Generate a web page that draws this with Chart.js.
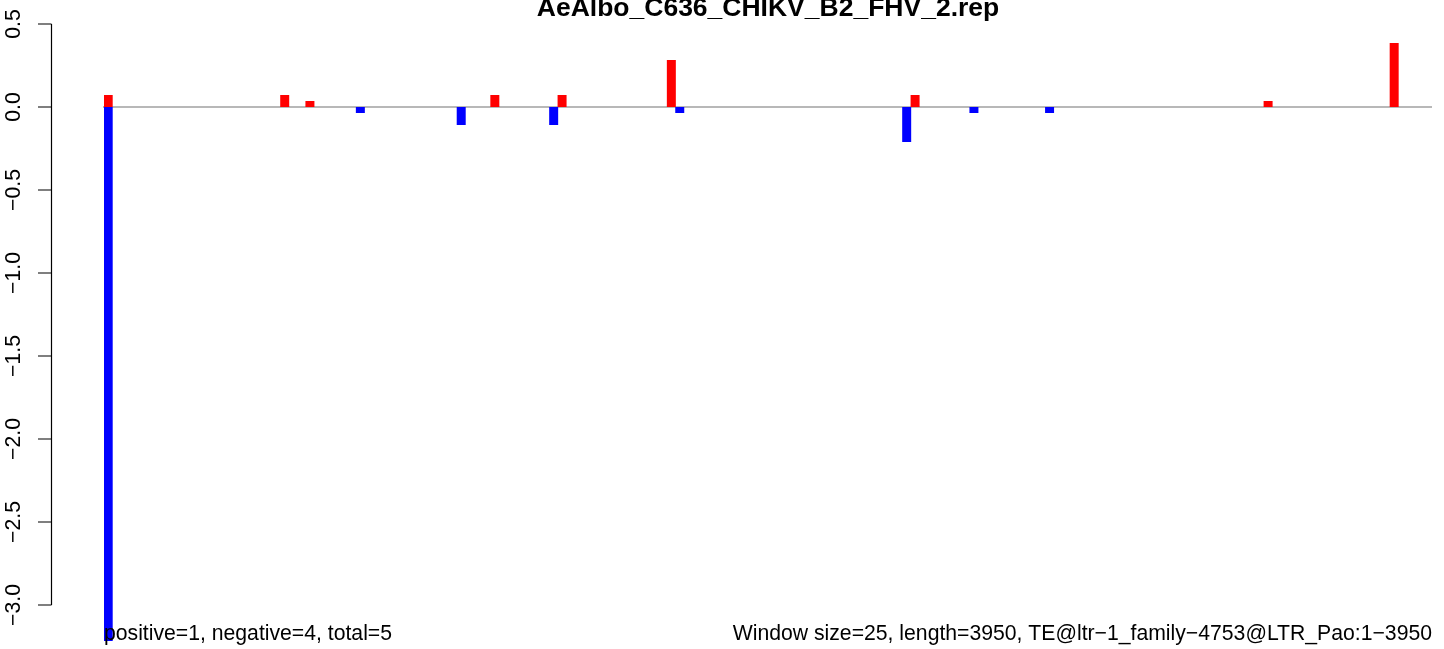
<!DOCTYPE html>
<html><head><meta charset="utf-8">
<script src="https://cdn.jsdelivr.net/npm/chart.js@4/dist/chart.umd.min.js"></script>
<style>html,body{margin:0;padding:0;background:#fff;} canvas{display:block;}</style>
</head><body>
<canvas id="c" width="1444" height="649"></canvas>
<script>
const chartTitle = "AeAlbo_C636_CHIKV_B2_FHV_2.rep";
const windowSize = 25;
const seqLength = 3950;
const posWindows = [0, 21, 24, 46, 54, 67, 96, 138, 153];
const posValues = [0.072, 0.072, 0.036, 0.072, 0.072, 0.283, 0.072, 0.036, 0.386];
const negWindows = [0, 30, 42, 53, 68, 95, 103, 112];
const negValues = [-3.217, -0.036, -0.108, -0.108, -0.036, -0.211, -0.036, -0.036];
const yTicks = [-3.0, -2.5, -2.0, -1.5, -1.0, -0.5, 0.0, 0.5];
const yMin = -3.25, yMax = 0.5;
const leftNote = "positive=1, negative=4, total=5";
const rightNote = "Window size=25, length=3950, TE@ltr\u22121_family\u22124753@LTR_Pao:1\u22123950";

const nWindows = Math.round(seqLength / windowSize);
const categories = Array.from({length: nWindows}, (_, i) => String(i));
const posData = new Array(nWindows).fill(null);
posWindows.forEach((w, i) => { posData[w] = posValues[i]; });
const negData = new Array(nWindows).fill(null);
negWindows.forEach((w, i) => { negData[w] = negValues[i]; });

const FONT = "'Liberation Sans', Arial, Helvetica, sans-serif";
const fmt = v => (v < 0 ? "\u2212" : "") + Math.abs(v).toFixed(1);

const decor = {
  id: 'decor',
  beforeDatasetsDraw(chart) {
    const {ctx, chartArea} = chart;
    const y = chart.scales.y.getPixelForValue(0);
    ctx.save();
    ctx.strokeStyle = '#a0a0a0';
    ctx.lineWidth = 1.5;
    ctx.beginPath();
    ctx.moveTo(chartArea.left - 1, y);
    ctx.lineTo(chartArea.right, y);
    ctx.stroke();
    ctx.restore();
  },
  afterDraw(chart) {
    const {ctx, chartArea} = chart;
    const ys = chart.scales.y;
    ctx.save();
    const axX = 51.5;
    ctx.strokeStyle = '#000';
    ctx.lineWidth = 1.2;
    ctx.beginPath();
    ctx.moveTo(axX, ys.getPixelForValue(yTicks[0]));
    ctx.lineTo(axX, ys.getPixelForValue(yTicks[yTicks.length - 1]));
    yTicks.forEach(t => {
      const py = ys.getPixelForValue(t);
      ctx.moveTo(axX, py);
      ctx.lineTo(38, py);
    });
    ctx.stroke();
    ctx.fillStyle = '#000';
    ctx.font = '21.2px ' + FONT;
    ctx.textAlign = 'center';
    ctx.textBaseline = 'alphabetic';
    yTicks.forEach(t => {
      const py = ys.getPixelForValue(t);
      ctx.save();
      ctx.translate(20, py);
      ctx.rotate(-Math.PI / 2);
      ctx.fillText(fmt(t), 0, 0);
      ctx.restore();
    });
    ctx.font = 'bold 26.5px ' + FONT;
    ctx.textAlign = 'center';
    ctx.fillText(chartTitle, (chartArea.left + chartArea.right) / 2, 16);
    ctx.font = '21.2px ' + FONT;
    ctx.textAlign = 'left';
    ctx.fillText(leftNote, chartArea.left, 640);
    ctx.textAlign = 'right';
    ctx.fillText(rightNote, chartArea.right, 640);
    ctx.restore();
  }
};

new Chart(document.getElementById('c'), {
  type: 'bar',
  data: {
    labels: categories,
    datasets: [
      { label: 'positive', data: posData, backgroundColor: '#ff0000', grouped: false,
        barPercentage: 1.07, categoryPercentage: 1, borderWidth: 0 },
      { label: 'negative', data: negData, backgroundColor: '#0000ff', grouped: false,
        barPercentage: 1.07, categoryPercentage: 1, borderWidth: 0 }
    ]
  },
  options: {
    responsive: false,
    devicePixelRatio: 1,
    animation: false,
    layout: { padding: { left: 104, right: 12, top: 24, bottom: 649 - (24 + (yMax - yMin) * 166) } },
    plugins: { legend: { display: false }, title: { display: false }, tooltip: { enabled: false } },
    scales: {
      x: { type: 'category', display: false, offset: true, grid: { display: false } },
      y: { display: false, min: yMin, max: yMax, grid: { display: false } }
    }
  },
  plugins: [decor]
});
</script>
</body></html>
